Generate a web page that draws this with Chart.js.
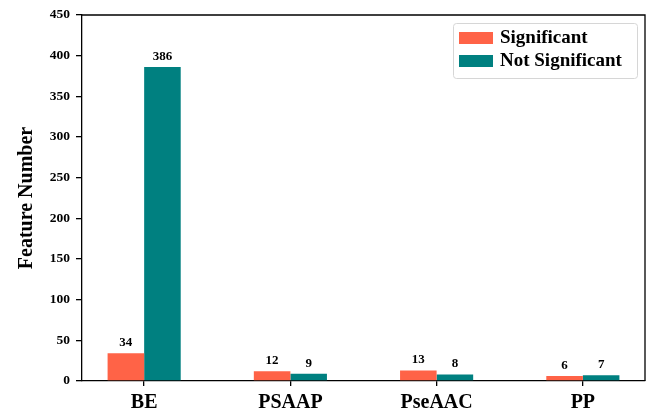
<!DOCTYPE html>
<html>
<head>
<meta charset="utf-8">
<script src="https://cdn.jsdelivr.net/npm/chart.js@4.4.0/dist/chart.umd.min.js"></script>
<style>
  html, body { margin: 0; padding: 0; background: #fff; }
  #wrap { width: 651px; height: 412px; }
</style>
</head>
<body>
<div id="wrap"><canvas id="featureChart"></canvas></div>
<script>
const categories = ['BE', 'PSAAP', 'PseAAC', 'PP'];
const significant = [34, 12, 13, 6];
const notSignificant = [386, 9, 8, 7];
const yTicks = [0, 50, 100, 150, 200, 250, 300, 350, 400, 450];

const serif = '"Liberation Serif", "Times New Roman", serif';

function toPoints(values) {
    return values.map(function (v, i) { return { x: i, y: v }; });
}

// value labels above each bar
const barLabels = {
    id: 'barLabels',
    afterDatasetsDraw(chart) {
        const ctx = chart.ctx;
        ctx.save();
        ctx.font = 'bold 13px ' + serif;
        ctx.fillStyle = '#000';
        ctx.textAlign = 'center';
        ctx.textBaseline = 'bottom';
        chart.data.datasets.forEach(function (ds, di) {
            chart.getDatasetMeta(di).data.forEach(function (bar, i) {
                ctx.fillText(ds.data[i].y, bar.x, bar.y - 4);
            });
        });
        ctx.restore();
    }
};

// closes the frame (top + right spines) and draws the legend inside the plot
const frameAndLegend = {
    id: 'frameAndLegend',
    afterDraw(chart) {
        const ctx = chart.ctx;
        const a = chart.chartArea;
        ctx.save();
        ctx.strokeStyle = '#000';
        ctx.lineWidth = 1.3;
        ctx.beginPath();
        ctx.moveTo(a.left, a.top);
        ctx.lineTo(a.right, a.top);
        ctx.lineTo(a.right, a.bottom);
        ctx.stroke();

        const bx = a.right - 192, by = a.top + 8, bw = 184, bh = 55;
        ctx.fillStyle = 'rgba(255,255,255,0.8)';
        ctx.strokeStyle = '#d6d6d6';
        ctx.lineWidth = 1;
        ctx.beginPath();
        ctx.roundRect(bx + 0.5, by + 0.5, bw, bh, 3);
        ctx.fill();
        ctx.stroke();

        ctx.font = 'bold 19px ' + serif;
        ctx.textAlign = 'left';
        ctx.textBaseline = 'middle';
        chart.data.datasets.forEach(function (ds, i) {
            const cy = by + 15 + i * 23;
            ctx.fillStyle = ds.backgroundColor;
            ctx.fillRect(bx + 6, cy - 6, 34, 12);
            ctx.fillStyle = '#000';
            ctx.fillText(ds.label, bx + 47, cy);
        });
        ctx.restore();
    }
};

new Chart(document.getElementById('featureChart'), {
    type: 'bar',
    data: {
        datasets: [
            { label: 'Significant', data: toPoints(significant), backgroundColor: '#FF6347' },
            { label: 'Not Significant', data: toPoints(notSignificant), backgroundColor: '#008080' }
        ]
    },
    options: {
        responsive: true,
        maintainAspectRatio: false,
        animation: false,
        categoryPercentage: 0.5,
        barPercentage: 1.0,
        layout: { padding: { left: 0, right: 6, top: 15, bottom: 0 } },
        scales: {
            x: {
                type: 'linear',
                min: -0.425,
                max: 3.425,
                offset: false,
                grid: { display: true, offset: false, drawOnChartArea: false, drawTicks: true, tickLength: 5, color: '#000', lineWidth: 1.3 },
                border: { display: true, color: '#000', width: 1.3 },
                afterBuildTicks: function (scale) {
                    scale.ticks = categories.map(function (c, i) { return { value: i }; });
                },
                ticks: {
                    includeBounds: false,
                    autoSkip: false,
                    maxRotation: 0,
                    padding: 5,
                    color: '#000',
                    font: { family: serif, size: 20, weight: 'bold' },
                    callback: function (value) { return categories[value]; }
                },
                afterFit: function (scale) { scale.height = 31; }
            },
            y: {
                min: 0,
                max: 450,
                afterBuildTicks: function (scale) {
                    scale.ticks = yTicks.map(function (v) { return { value: v }; });
                },
                grid: { display: true, drawOnChartArea: false, drawTicks: true, tickLength: 6, color: '#000', lineWidth: 1.3 },
                border: { display: true, color: '#000', width: 1.3 },
                ticks: {
                    padding: 6,
                    color: '#000',
                    font: { family: serif, size: 13.5, weight: 'bold' }
                },
                title: {
                    display: true,
                    text: 'Feature Number',
                    color: '#000',
                    padding: { top: 15, bottom: 0 },
                    font: { family: serif, size: 20, weight: 'bold' }
                },
                afterFit: function (scale) { scale.width = 82; }
            }
        },
        plugins: {
            legend: { display: false },
            tooltip: { enabled: false }
        }
    },
    plugins: [barLabels, frameAndLegend]
});
</script>
</body>
</html>
